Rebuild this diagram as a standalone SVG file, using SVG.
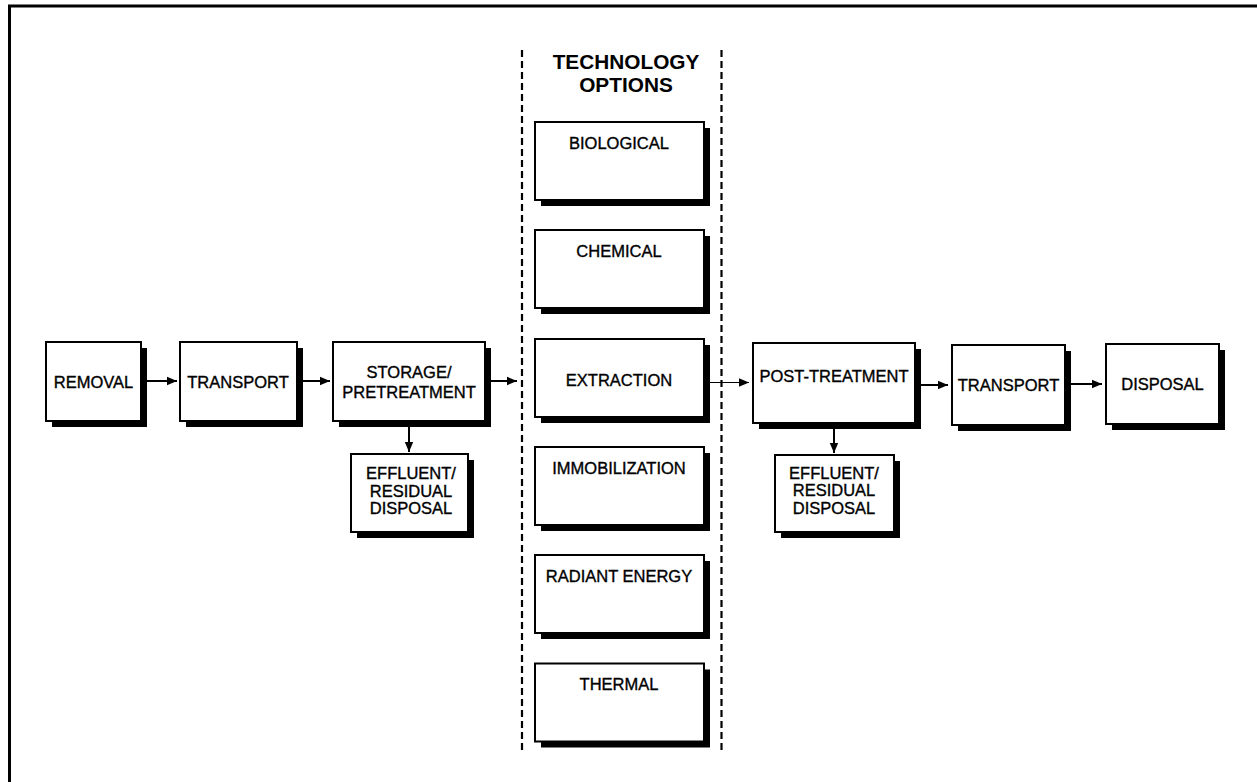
<svg xmlns="http://www.w3.org/2000/svg" width="1257" height="782" viewBox="0 0 1257 782">
<style>
.sh{fill:#000}
.bx{fill:#fff;stroke:#000;stroke-width:2}
.t{font-family:"Liberation Sans",Arial,Helvetica,sans-serif;font-size:16.5px;fill:#000;stroke:#000;stroke-width:0.35;text-anchor:middle}
.h{font-family:"Liberation Sans",Arial,Helvetica,sans-serif;font-size:20.8px;font-weight:bold;fill:#000;text-anchor:middle}
.c{fill:none;stroke:#000;stroke-width:2}
.thin{fill:none;stroke:#000;stroke-width:1.2}
.dash{fill:none;stroke:#000;stroke-width:2.2;stroke-dasharray:7 4}
</style>
<defs>
<marker id="ah" markerUnits="userSpaceOnUse" markerWidth="10" markerHeight="10" viewBox="0 0 10 10" refX="10" refY="5" orient="auto">
<path d="M0,0.8 L10,5 L0,9.2 Z" fill="#000"/>
</marker>
</defs>
<rect width="1257" height="782" fill="#fff"/>
<g id="frame">
<line x1="8" y1="6" x2="1257" y2="6" stroke="#000" stroke-width="3"/>
<line x1="9.5" y1="5" x2="9.5" y2="782" stroke="#000" stroke-width="3"/>
</g>
<g id="dividers">
<line class="dash" x1="522" y1="50" x2="522" y2="752"/>
<line class="dash" x1="721.5" y1="50" x2="721.5" y2="752"/>
</g>
<g id="title">
<text class="h" x="626" y="68.5">TECHNOLOGY</text>
<text class="h" x="626" y="92">OPTIONS</text>
</g>
<g id="removal">
<rect class="sh" x="52" y="348" width="95" height="79"/>
<rect class="bx" x="46" y="342" width="95" height="79"/>
<text class="t" x="93.5" y="387.5">REMOVAL</text>
</g>
<g id="transport1">
<rect class="sh" x="186" y="348" width="117" height="79"/>
<rect class="bx" x="180" y="342" width="117" height="79"/>
<text class="t" x="238" y="387.5">TRANSPORT</text>
</g>
<g id="storage">
<rect class="sh" x="339" y="348" width="152" height="79"/>
<rect class="bx" x="333" y="342" width="152" height="79"/>
<text class="t" x="409" y="378">STORAGE/</text>
<text class="t" x="409" y="398">PRETREATMENT</text>
</g>
<g id="effluent1">
<rect class="sh" x="357" y="460" width="117" height="78"/>
<rect class="bx" x="351" y="454" width="117" height="78"/>
<text class="t" x="411" y="479">EFFLUENT/</text>
<text class="t" x="411" y="496.5">RESIDUAL</text>
<text class="t" x="411" y="514">DISPOSAL</text>
</g>
<g id="biological">
<rect class="sh" x="541" y="128" width="169" height="78"/>
<rect class="bx" x="535" y="122" width="169" height="78"/>
<text class="t" x="619" y="148.5">BIOLOGICAL</text>
</g>
<g id="chemical">
<rect class="sh" x="541" y="236" width="169" height="78"/>
<rect class="bx" x="535" y="230" width="169" height="78"/>
<text class="t" x="619" y="256.5">CHEMICAL</text>
</g>
<g id="extraction">
<rect class="sh" x="541" y="345" width="169" height="78"/>
<rect class="bx" x="535" y="339" width="169" height="78"/>
<text class="t" x="619" y="385.5">EXTRACTION</text>
</g>
<g id="immobilization">
<rect class="sh" x="541" y="453" width="169" height="78"/>
<rect class="bx" x="535" y="447" width="169" height="78"/>
<text class="t" x="619" y="473.5">IMMOBILIZATION</text>
</g>
<g id="radiant">
<rect class="sh" x="541" y="561" width="169" height="78"/>
<rect class="bx" x="535" y="555" width="169" height="78"/>
<text class="t" x="619" y="581.5">RADIANT ENERGY</text>
</g>
<g id="thermal">
<rect class="sh" x="541" y="669.5" width="169" height="78"/>
<rect class="bx" x="535" y="663.5" width="169" height="78"/>
<text class="t" x="619" y="689.5">THERMAL</text>
</g>
<g id="posttreatment">
<rect class="sh" x="759" y="349" width="162" height="80"/>
<rect class="bx" x="753" y="343" width="162" height="80"/>
<text class="t" x="834" y="381.5">POST-TREATMENT</text>
</g>
<g id="transport2">
<rect class="sh" x="958" y="351" width="113" height="80"/>
<rect class="bx" x="952" y="345" width="113" height="80"/>
<text class="t" x="1008.5" y="391">TRANSPORT</text>
</g>
<g id="disposal">
<rect class="sh" x="1112" y="350" width="113" height="80"/>
<rect class="bx" x="1106" y="344" width="113" height="80"/>
<text class="t" x="1162.5" y="390">DISPOSAL</text>
</g>
<g id="effluent2">
<rect class="sh" x="781" y="461" width="119" height="77"/>
<rect class="bx" x="775" y="455" width="119" height="77"/>
<text class="t" x="834" y="478.5">EFFLUENT/</text>
<text class="t" x="834" y="496">RESIDUAL</text>
<text class="t" x="834" y="514">DISPOSAL</text>
</g>
<g id="connectors">
<line class="c" x1="147" y1="381" x2="177" y2="381" marker-end="url(#ah)"/>
<line class="c" x1="303" y1="381" x2="330" y2="381" marker-end="url(#ah)"/>
<line class="c" x1="491" y1="381" x2="517" y2="381" marker-end="url(#ah)"/>
<line class="c" x1="409" y1="427" x2="409" y2="452" marker-end="url(#ah)"/>
<line class="thin" x1="710" y1="382.5" x2="749" y2="382.5" marker-end="url(#ah)"/>
<line class="c" x1="921" y1="385" x2="948" y2="385" marker-end="url(#ah)"/>
<line class="c" x1="1071" y1="384" x2="1102" y2="384" marker-end="url(#ah)"/>
<line class="c" x1="834" y1="429" x2="834" y2="453" marker-end="url(#ah)"/>
</g>
</svg>
